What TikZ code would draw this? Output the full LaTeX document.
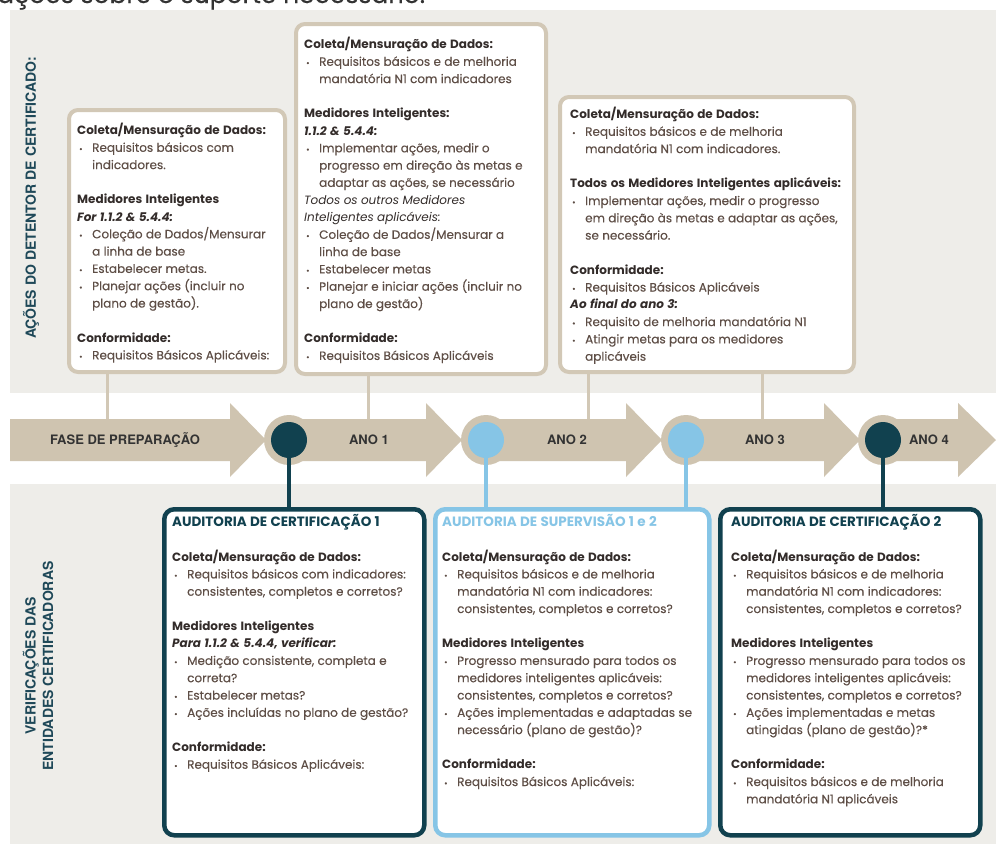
\documentclass[tikz,border=0pt]{standalone}
\usepackage{fontspec}
\setmainfont{Poppins}[UprightFeatures={FakeBold=0.25}]
\newfontfamily\lblfont{TeX Gyre Heros}
\usepackage{graphicx}
\definecolor{panel}{HTML}{EEEDE9}
\definecolor{tanc}{HTML}{CFC4B0}
\definecolor{tanb}{HTML}{D2C8B6}
\definecolor{teal}{HTML}{11414F}
\definecolor{lblue}{HTML}{86C5E6}
\definecolor{lblc}{HTML}{1E4858}
\definecolor{bodyc}{HTML}{5E4E46}
\definecolor{hdc}{HTML}{332C2A}
\definecolor{arrc}{HTML}{333333}
\newcommand\xhead[1]{\par{\bfseries\color{hdc}#1}\par}
\newcommand\xital[1]{\par{\bfseries\itshape\color{hdc}#1}\par}
\newcommand\xit[1]{\par{\itshape\color{hdc}#1}\par}
\newcommand\xtitle[2]{\par{\bfseries\fontsize{13.5}{17.3}\selectfont\color{#1}#2}\par}
\newcommand\xbul[1]{\par\hangindent=15pt\hangafter=1\makebox[15pt][l]{\hspace{2pt}{\fontsize{8}{8}\selectfont\textbullet}}#1\par}
\newcommand\xgap{\par\vspace{17.3pt}}
\begin{document}
\begin{tikzpicture}[x=1pt,y=-1pt,
  topbox/.style={draw=tanb, line width=4pt, rounded corners=9pt, fill=white, anchor=north west, inner sep=0pt},
  botbox/.style={line width=4.5pt, rounded corners=10pt, fill=white, anchor=north west, inner sep=0pt},
  txt/.style={anchor=north west, inner sep=0pt, text width=#1,
    execute at begin node={\parindent=0pt\parskip=0pt\raggedright\fontsize{12}{17.3}\selectfont\color{bodyc}}},
  tanline/.style={draw=tanb, line width=3pt},
  darkline/.style={draw=teal, line width=4pt},
  blueline/.style={draw=lblue, line width=4pt},
  albl/.style={font=\lblfont\bfseries\fontsize{13}{15}\selectfont, text=arrc, inner sep=0pt},
  vlbl/.style={rotate=90, font=\lblfont\bfseries\fontsize{14}{17.5}\selectfont, text=lblc, inner sep=0pt, align=center}]
\useasboundingbox (0,0) rectangle (996,844);
\fill[white] (0,0) rectangle (996,844);
% cut-off text at top
\begin{scope}
\clip (0,0) rectangle (996,10);
\node[anchor=base west, inner sep=0pt, font=\fontsize{25}{28}\selectfont, text=arrc] (topt) at (-3,3) {ações sobre o suporte necessário.};
\end{scope}
% panels
\fill[panel] (10,10) rectangle (996,393);
\fill[panel] (10,484) rectangle (996,844);
% side labels
\node[vlbl] (sl1) at (31,198) {AÇÕES DO DETENTOR DE CERTIFICADO:};
\node[vlbl] (sl2) at (38,666) {VERIFICAÇÕES DAS\\ENTIDADES CERTIFICADORAS};
% coordinates
\coordinate (c1) at (289,440);
\coordinate (c2) at (486,440);
\coordinate (c3) at (686,440);
\coordinate (c4) at (883,440);
\coordinate (a1) at (107,430);
\coordinate (a2) at (368,430);
\coordinate (a3) at (588,430);
\coordinate (a4) at (762,430);
% top boxes
\node[topbox, minimum width=216pt, minimum height=262pt] (bA) at (67,108) {};
\node[topbox, minimum width=250pt, minimum height=350pt] (bB) at (294,22) {};
\node[topbox, minimum width=294pt, minimum height=275pt] (bC) at (558,95) {};
% top connectors
\draw[tanline] (bA.south -| a1) -- (a1);
\draw[tanline] (bB.south -| a2) -- (a2);
\draw[tanline] (bC.south -| a3) -- (a3);
\draw[tanline] (bC.south -| a4) -- (a4);
% top texts
\node[txt=204pt] (tA) at (77,117) {%
\xhead{Coleta/Mensuração de Dados:}
\xbul{Requisitos básicos com\newline indicadores.}
\xgap
\xhead{Medidores Inteligentes}
\xital{For 1.1.2 \& 5.4.4:}
\xbul{Coleção de Dados/Mensurar\newline a linha de base}
\xbul{Estabelecer metas.}
\xbul{Planejar ações (incluir no\newline plano de gestão).}
\xgap
\xhead{Conformidade:}
\xbul{Requisitos Básicos Aplicáveis:}};
\node[txt=242pt] (tB) at (304,31) {%
\xhead{Coleta/Mensuração de Dados:}
\xbul{Requisitos básicos e de melhoria\newline mandatória N1 com indicadores}
\xgap
\xhead{Medidores Inteligentes:}
\xital{1.1.2 \& 5.4.4:}
\xbul{Implementar ações, medir o\newline progresso em direção às metas e\newline adaptar as ações, se necessário}
\xit{Todos os outros Medidores\newline Inteligentes aplicáveis:}
\xbul{Coleção de Dados/Mensurar a\newline linha de base}
\xbul{Estabelecer metas}
\xbul{Planejar e iniciar ações (incluir no\newline plano de gestão)}
\xgap
\xhead{Conformidade:}
\xbul{Requisitos Básicos Aplicáveis}};
\node[txt=286pt] (tC) at (570,101) {%
\xhead{Coleta/Mensuração de Dados:}
\xbul{Requisitos básicos e de melhoria\newline mandatória N1 com indicadores.}
\xgap
\xhead{Todos os Medidores Inteligentes aplicáveis:}
\xbul{Implementar ações, medir o progresso\newline em direção às metas e adaptar as ações,\newline se necessário.}
\xgap
\xhead{Conformidade:}
\xbul{Requisitos Básicos Aplicáveis}
\xital{Ao final do ano 3:}
\xbul{Requisito de melhoria mandatória N1}
\xbul{Atingir metas para os medidores\newline aplicáveis}};
% arrows
\fill[tanc] (10,419) -- (230,419) -- (230,403) -- (266,440) -- (230,477) -- (230,461) -- (10,461) -- cycle;
\fill[tanc] (289,419) -- (426,419) -- (426,403) -- (462,440) -- (426,477) -- (426,461) -- (289,461) -- cycle;
\fill[tanc] (486,419) -- (626,419) -- (626,403) -- (662,440) -- (626,477) -- (626,461) -- (486,461) -- cycle;
\fill[tanc] (686,419) -- (824,419) -- (824,403) -- (860,440) -- (824,477) -- (824,461) -- (686,461) -- cycle;
\fill[tanc] (883,419) -- (958,419) -- (958,403) -- (996,440) -- (958,477) -- (958,461) -- (883,461) -- cycle;
% bottom boxes
\node[botbox, draw=teal, minimum width=260pt, minimum height=326pt] (bD) at (162,507) {};
\node[botbox, draw=lblue, minimum width=274pt, minimum height=326pt] (bE) at (433,507) {};
\node[botbox, draw=teal, minimum width=260pt, minimum height=326pt] (bF) at (718,507) {};
% halos
\fill[tanc] (c1) circle (25);
\fill[tanc] (c2) circle (25);
\fill[tanc] (c3) circle (25);
\fill[tanc] (c4) circle (25);
% bottom connectors
\draw[darkline] (c1) -- (c1 |- bD.north);
\draw[blueline] (c2) -- (c2 |- bE.north);
\draw[blueline] (c3) -- (c3 |- bE.north);
\draw[darkline] (c4) -- (c4 |- bF.north);
% circles
\node[circle, fill=teal, minimum size=36pt, inner sep=0pt] (k1) at (c1) {};
\node[circle, fill=lblue, minimum size=36pt, inner sep=0pt] (k2) at (c2) {};
\node[circle, fill=lblue, minimum size=36pt, inner sep=0pt] (k3) at (c3) {};
\node[circle, fill=teal, minimum size=36pt, inner sep=0pt] (k4) at (c4) {};
% arrow labels
\node[albl] (l0) at (125,440) {FASE DE PREPARAÇÃO};
\node[albl] (l1) at (369,440) {ANO 1};
\node[albl] (l2) at (567,440) {ANO 2};
\node[albl] (l3) at (765,440) {ANO 3};
\node[albl] (l4) at (929,440) {ANO 4};
% bottom texts
\node[txt=250pt] (tD) at (172,509) {%
\xtitle{teal}{AUDITORIA DE CERTIFICAÇÃO 1}
\xgap
\xhead{Coleta/Mensuração de Dados:}
\xbul{Requisitos básicos com indicadores:\newline consistentes, completos e corretos?}
\xgap
\xhead{Medidores Inteligentes}
\xital{Para 1.1.2 \& 5.4.4, verificar:}
\xbul{Medição consistente, completa e\newline correta?}
\xbul{Estabelecer metas?}
\xbul{Ações incluídas no plano de gestão?}
\xgap
\xhead{Conformidade:}
\xbul{Requisitos Básicos Aplicáveis:}};
\node[txt=264pt] (tE) at (442,509) {%
\xtitle{lblue}{AUDITORIA DE SUPERVISÃO 1 e 2}
\xgap
\xhead{Coleta/Mensuração de Dados:}
\xbul{Requisitos básicos e de melhoria\newline mandatória N1 com indicadores:\newline consistentes, completos e corretos?}
\xgap
\xhead{Medidores Inteligentes}
\xbul{Progresso mensurado para todos os\newline medidores inteligentes aplicáveis:\newline consistentes, completos e corretos?}
\xbul{Ações implementadas e adaptadas se\newline necessário (plano de gestão)?}
\xgap
\xhead{Conformidade:}
\xbul{Requisitos Básicos Aplicáveis:}};
\node[txt=250pt] (tF) at (731,509) {%
\xtitle{teal}{AUDITORIA DE CERTIFICAÇÃO 2}
\xgap
\xhead{Coleta/Mensuração de Dados:}
\xbul{Requisitos básicos e de melhoria\newline mandatória N1 com indicadores:\newline consistentes, completos e corretos?}
\xgap
\xhead{Medidores Inteligentes}
\xbul{Progresso mensurado para todos os\newline medidores inteligentes aplicáveis:\newline consistentes, completos e corretos?}
\xbul{Ações implementadas e metas\newline atingidas (plano de gestão)?*}
\xgap
\xhead{Conformidade:}
\xbul{Requisitos básicos e de melhoria\newline mandatória N1 aplicáveis}};
\end{tikzpicture}
\end{document}
